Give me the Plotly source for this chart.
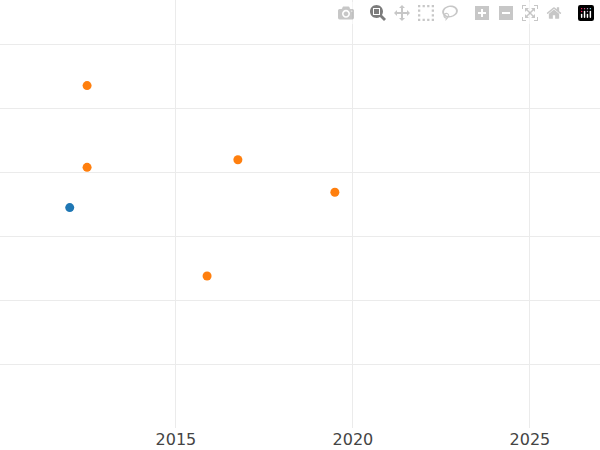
import plotly.graph_objects as go

# Blue series
blue_x = [2012.0]
blue_y = [2.45]

# Orange series
orange_x = [2012.49, 2012.49, 2016.75, 2019.49, 2015.88]
orange_y = [4.36, 3.08, 3.2, 2.69, 1.38]

fig = go.Figure()
fig.add_trace(go.Scatter(x=blue_x, y=blue_y, mode="markers",
                         marker=dict(color="#1f77b4", size=9)))
fig.add_trace(go.Scatter(x=orange_x, y=orange_y, mode="markers",
                         marker=dict(color="#ff7f0e", size=9)))

fig.update_layout(
    width=600, height=450,
    template="plotly_white",
    showlegend=False,
    margin=dict(l=0, r=0, t=0, b=22),
    font=dict(family="DejaVu Sans", size=16, color="#444"),
    xaxis=dict(range=[2010.03, 2026.98], tickvals=[2015, 2020, 2025],
               showgrid=True, gridcolor="#ebebeb", zeroline=False),
    yaxis=dict(range=[-1, 5.7], dtick=1, showticklabels=False,
               showgrid=True, gridcolor="#ebebeb", zeroline=False),
)

# page body has a default 8px margin; drop it so the chart sits flush
fig.write_html("out.html", post_script="document.body.style.margin='0';")
